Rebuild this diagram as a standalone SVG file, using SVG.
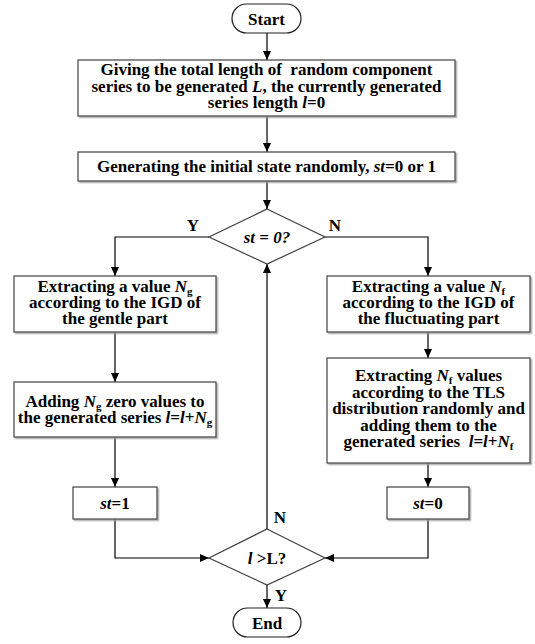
<svg xmlns="http://www.w3.org/2000/svg" width="535" height="644" viewBox="0 0 535 644">
<style>
.box{fill:#fff;stroke:#404040;stroke-width:1.2;filter:url(#sh)}
.dia{fill:#fff;stroke:#404040;stroke-width:1.2}
.term{fill:#fff;stroke:#202020;stroke-width:1.2}
.t{font-family:"Liberation Serif","Times New Roman",serif;font-weight:bold;font-size:17px;text-anchor:middle;fill:#000}
.i{font-style:italic}
.sub{font-size:11px}
.c{fill:none;stroke:#000;stroke-width:1.2;marker-end:url(#a)}
</style>
<defs>
<marker id="a" markerUnits="userSpaceOnUse" markerWidth="9" markerHeight="8" refX="9" refY="4" orient="auto">
<path d="M0,0 L9,4 L0,8 z" fill="#000"/>
</marker>
<filter id="sh" x="-5%" y="-5%" width="115%" height="130%">
<feDropShadow dx="1.5" dy="1.5" stdDeviation="0.7" flood-color="#9a9a9a" flood-opacity="0.8"/>
</filter>
</defs>
<rect width="535" height="644" fill="#fff"/>
<g id="connectors">
<path class="c" d="M267,33 V60"/>
<path class="c" d="M267,116 V152"/>
<path class="c" d="M267,181 V209"/>
<path class="c" d="M209,237 H115 V276"/>
<path class="c" d="M325,237 H428 V276"/>
<path class="c" d="M115,332 V382"/>
<path class="c" d="M115,437 V487"/>
<path class="c" d="M428,332 V358"/>
<path class="c" d="M428,463 V487"/>
<path class="c" d="M115,519 V558 H209"/>
<path class="c" d="M428,519 V558 H325"/>
<path class="c" d="M267,529 V264"/>
<path class="c" d="M267,585 V608"/>
<text class="t" x="193" y="231">Y</text>
<text class="t" x="335" y="231">N</text>
<text class="t" x="280" y="523">N</text>
<text class="t" x="281" y="601">Y</text>
</g>
<g id="start">
<rect class="term" x="232" y="4" width="69" height="29" rx="14.5"/>
<text class="t" x="266.5" y="24.5">Start</text>
</g>
<g id="init-length">
<rect class="box" x="78" y="60" width="377" height="56"/>
<text class="t"><tspan x="266.5" y="75">Giving the total length of&#160; random component</tspan><tspan x="266.5" y="91.5">series to be generated <tspan class="i">L</tspan>, the currently generated</tspan><tspan x="266.5" y="108">series length <tspan class="i">l</tspan>=0</tspan></text>
</g>
<g id="init-state">
<rect class="box" x="78" y="152" width="377" height="29"/>
<text class="t" x="266.5" y="172">Generating the initial state randomly, <tspan class="i">st</tspan>=0 or 1</text>
</g>
<g id="decision-st">
<polygon class="dia" points="267,209 325,237 267,264 209,237"/>
<text class="t i" x="267" y="243">st = 0?</text>
</g>
<g id="extract-ng">
<rect class="box" x="14" y="276" width="202" height="56"/>
<text class="t"><tspan x="115" y="292">Extracting a value <tspan class="i">N</tspan><tspan class="sub" dy="3">g</tspan></tspan><tspan x="115" y="308">according to the IGD of</tspan><tspan x="115" y="324">the gentle part</tspan></text>
</g>
<g id="add-ng">
<rect class="box" x="14" y="382" width="202" height="55"/>
<text class="t"><tspan x="115" y="407">Adding <tspan class="i">N</tspan><tspan class="sub" dy="3">g</tspan><tspan dy="-3"> zero values to</tspan></tspan><tspan x="115" y="423">the generated series <tspan class="i">l</tspan>=<tspan class="i">l</tspan>+<tspan class="i">N</tspan><tspan class="sub" dy="3">g</tspan></tspan></text>
</g>
<g id="set-st1">
<rect class="box" x="73" y="487" width="84" height="32"/>
<text class="t" x="115" y="509"><tspan class="i">st</tspan>=1</text>
</g>
<g id="extract-nf">
<rect class="box" x="327" y="276" width="203" height="56"/>
<text class="t"><tspan x="428.5" y="292">Extracting a value <tspan class="i">N</tspan><tspan class="sub" dy="3">f</tspan></tspan><tspan x="428.5" y="308">according to the IGD of</tspan><tspan x="428.5" y="324">the fluctuating part</tspan></text>
</g>
<g id="extract-tls">
<rect class="box" x="327" y="358" width="203" height="105"/>
<text class="t"><tspan x="428.5" y="381">Extracting <tspan class="i">N</tspan><tspan class="sub" dy="3">f</tspan><tspan dy="-3"> values</tspan></tspan><tspan x="428.5" y="397.5">according to the TLS</tspan><tspan x="428.5" y="414">distribution randomly and</tspan><tspan x="428.5" y="430.5">adding them to the</tspan><tspan x="428.5" y="447">generated series&#160; <tspan class="i">l</tspan>=<tspan class="i">l</tspan>+<tspan class="i">N</tspan><tspan class="sub" dy="3">f</tspan></tspan></text>
</g>
<g id="set-st0">
<rect class="box" x="387" y="487" width="82" height="32"/>
<text class="t" x="428" y="509"><tspan class="i">st</tspan>=0</text>
</g>
<g id="decision-l">
<polygon class="dia" points="267,529 325,558 267,585 209,558"/>
<text class="t" x="267" y="564"><tspan class="i">l</tspan> &gt;L?</text>
</g>
<g id="end">
<rect class="term" x="233" y="608" width="68" height="29" rx="14.5"/>
<text class="t" x="267" y="628.5">End</text>
</g>
</svg>
